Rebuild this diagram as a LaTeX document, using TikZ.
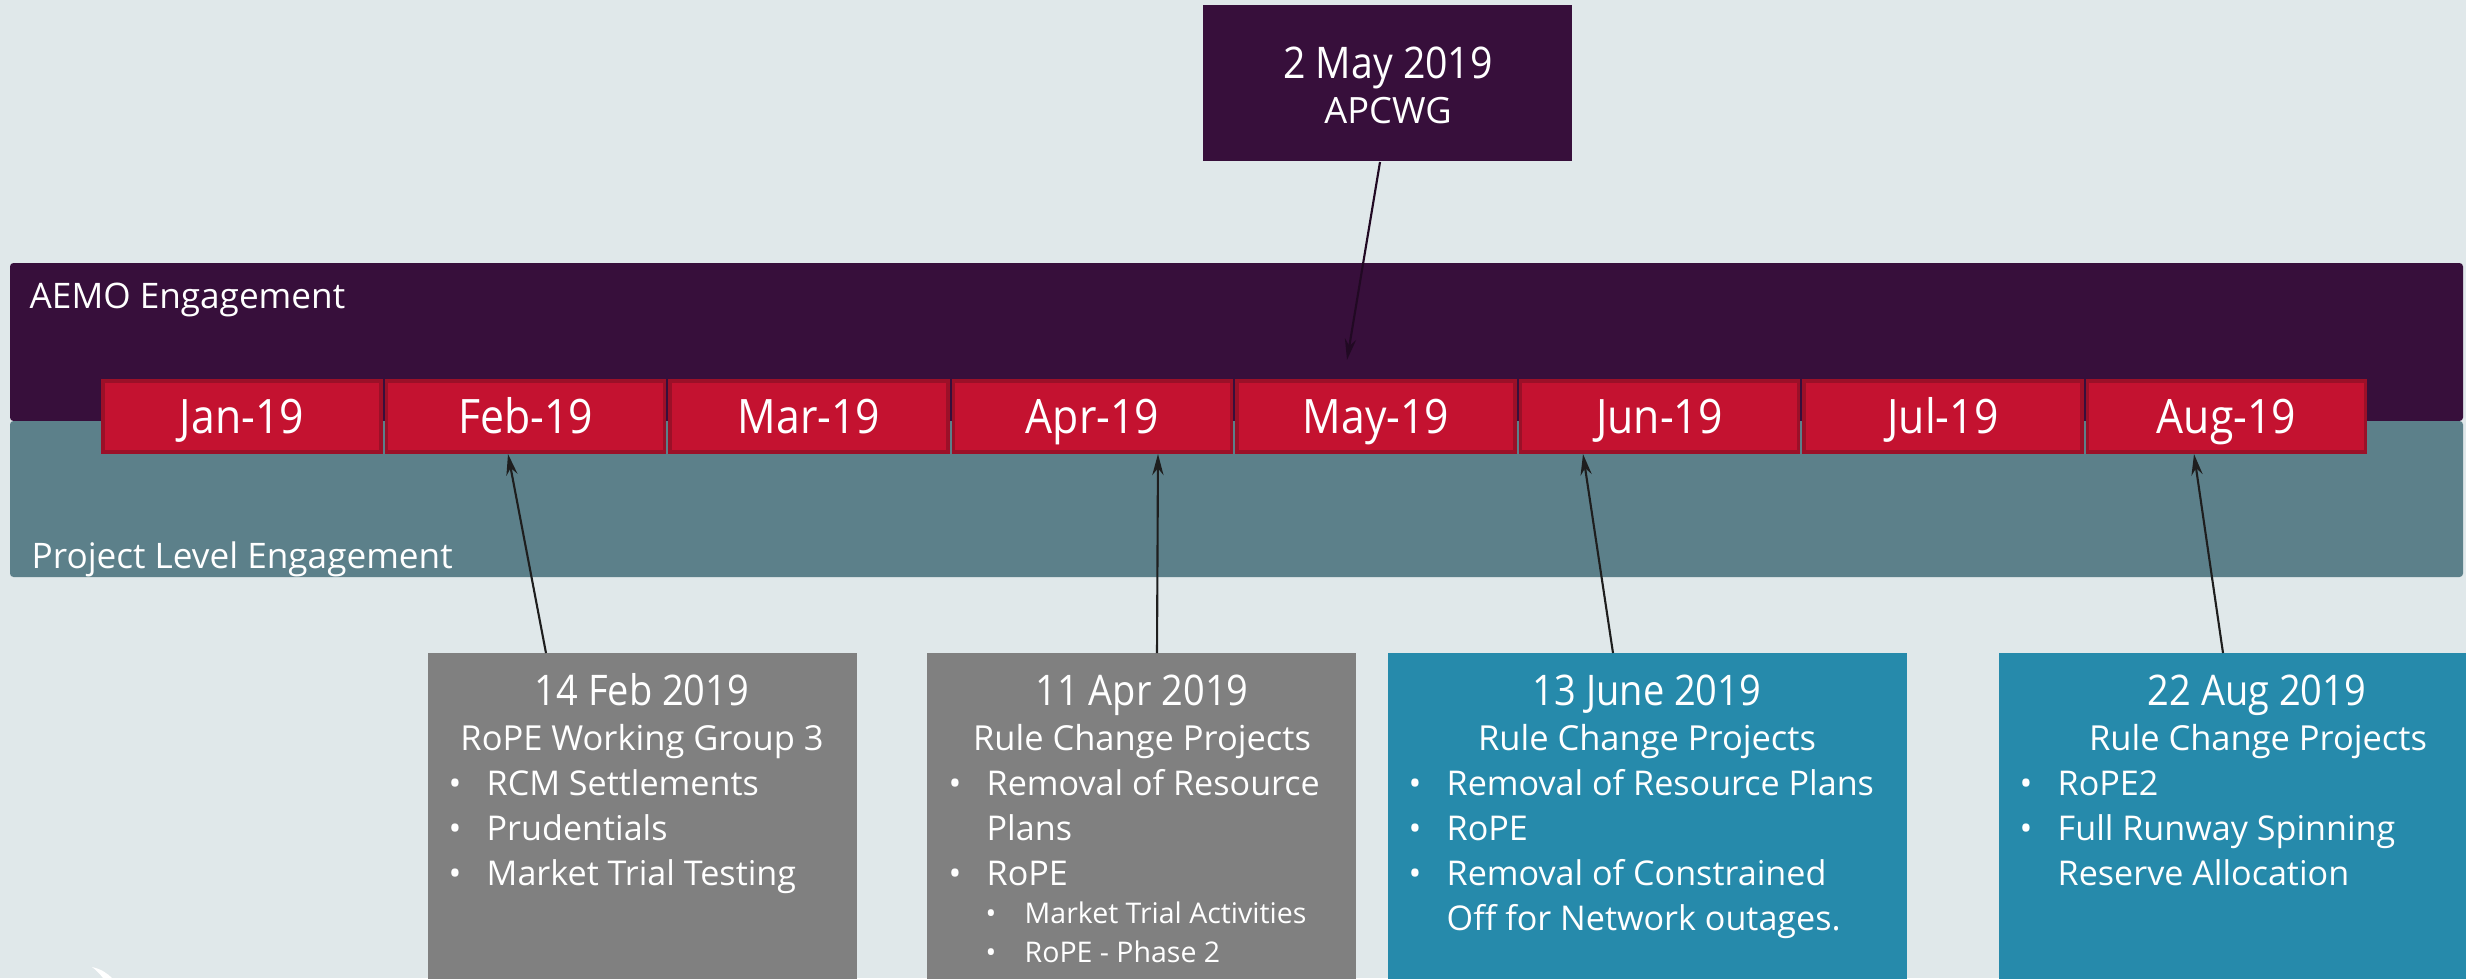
\documentclass[tikz,border=0pt]{standalone}
\usepackage{fontspec}
\setmainfont{Open Sans}
\newfontfamily\titlefont{Open Sans}[FakeStretch=0.9]
\usetikzlibrary{arrows.meta}
\definecolor{bgc}{HTML}{E0E8EA}
\definecolor{aemoc}{HTML}{370F3B}
\definecolor{projc}{HTML}{5C808A}
\definecolor{mred}{HTML}{C41230}
\definecolor{mborder}{HTML}{9B1028}
\definecolor{greyc}{HTML}{808080}
\definecolor{tealc}{HTML}{268AAB}
\definecolor{arrowc}{HTML}{1E1E1E}
\newcommand\bul[1]{\makebox[0.38cm][l]{•}#1}
\newcommand\sbul[1]{\makebox[0.39cm][l]{•}#1}
\begin{document}
\begin{tikzpicture}[x=0.01cm, y=-0.01cm,
  bandlabel/.style={text=white, font=\fontsize{10pt}{12pt}\selectfont, inner sep=0, anchor=base west},
  month/.style={draw=mborder, line width=1pt, fill=mred, text=white,
    minimum width=2.78cm, minimum height=0.71cm, inner sep=0,
    text height=9.6pt, text depth=0pt,
    font=\titlefont\fontsize{13.5pt}{16pt}\selectfont},
  evbox/.style={inner sep=0, minimum height=3.47cm},
  title/.style={text=white, font=\titlefont\fontsize{12pt}{14pt}\selectfont, inner sep=0, anchor=base},
  subt/.style={text=white, font=\fontsize{9.8pt}{12pt}\selectfont, inner sep=0, anchor=base},
  item/.style={text=white, font=\fontsize{9.7pt}{12pt}\selectfont, inner sep=0, anchor=base west},
  subitem/.style={text=white, font=\fontsize{8.1pt}{10pt}\selectfont, inner sep=0, anchor=base west},
  conn/.style={draw=arrowc, line width=0.6pt, -{Stealth[length=6pt,width=3.2pt]}}
]
\clip (0,0) rectangle (2466,978);
\fill[bgc] (0,0) rectangle (2466,978);
% bands
\fill[aemoc, rounded corners=1pt] (10,263) rectangle (2463,421);
\fill[projc, rounded corners=1pt] (10,421) rectangle (2463,577);
\node[bandlabel] (aemolbl) at (29,308) {AEMO Engagement};
\node[bandlabel] (projlbl) at (31,568) {Project Level Engagement};
% months
\foreach \m [count=\i from 0] in {Jan,Feb,Mar,Apr,May,Jun,Jul,Aug} {
  \node[month] (m\i) at ({242+283.5*\i}, 416.5) {\m-19};
}
% APCWG box
\node[fill=aemoc, inner sep=0, minimum width=3.69cm, minimum height=1.56cm] (apbox) at (1387.5,83) {};
\node[title, font=\titlefont\fontsize{12.4pt}{14pt}\selectfont] (apdate) at (1388,78) {2 May 2019};
\node[subt, font=\fontsize{10.3pt}{12pt}\selectfont] (apname) at (1388,123) {APCWG};
\coordinate (aptail) at (1380,162);
\coordinate (aptip) at (1347,360);
\draw[conn, draw=aemoc!60!black] (aptail) -- (aptip);
% event boxes
\node[evbox, fill=greyc, minimum width=4.29cm] (b1) at (642.5,826.5) {};
\node[evbox, fill=greyc, minimum width=4.29cm] (b2) at (1141.5,826.5) {};
\node[evbox, fill=tealc, minimum width=5.19cm] (b3) at (1647.5,826.5) {};
\node[evbox, fill=tealc, minimum width=5.19cm] (b4) at (2258.5,826.5) {};
% connectors
\coordinate (b1tail) at (546,653);
\coordinate (febin) at (508,454);
\coordinate (b2tail) at (1157,653);
\coordinate (aprin) at (1158,454);
\coordinate (b3tail) at (1613,653);
\coordinate (junin) at (1583,454);
\coordinate (b4tail) at (2223,653);
\coordinate (augin) at (2194,454);
\draw[conn] (b1tail) -- (febin);
\draw[conn] (b2tail) -- (aprin);
\draw[conn] (b3tail) -- (junin);
\draw[conn] (b4tail) -- (augin);
% box 1
\node[title] (b1t) at (642,705) {14 Feb 2019};
\node[subt] (b1s) at (642,750) {RoPE Working Group 3};
\node[item] (b1a) at (448,795) {\bul{RCM Settlements}};
\node[item] (b1b) at (448,840) {\bul{Prudentials}};
\node[item] (b1c) at (448,885) {\bul{Market Trial Testing}};
% box 2
\node[title] (b2t) at (1142,705) {11 Apr 2019};
\node[subt] (b2s) at (1142,750) {Rule Change Projects};
\node[item] (b2a) at (948,795) {\bul{Removal of Resource}};
\node[item] (b2a2) at (986,840) {Plans};
\node[item] (b2b) at (948,885) {\bul{RoPE}};
\node[subitem] (b2c) at (985,923) {\sbul{Market Trial Activities}};
\node[subitem] (b2d) at (985,962) {\sbul{RoPE - Phase 2}};
% box 3
\node[title] (b3t) at (1647,705) {13 June 2019};
\node[subt] (b3s) at (1647,750) {Rule Change Projects};
\node[item] (b3a) at (1408,795) {\bul{Removal of Resource Plans}};
\node[item] (b3b) at (1408,840) {\bul{RoPE}};
\node[item] (b3c) at (1408,885) {\bul{Removal of Constrained}};
\node[item] (b3c2) at (1446,930) {Off for Network outages.};
% box 4
\node[title] (b4t) at (2257,705) {22 Aug 2019};
\node[subt] (b4s) at (2258,750) {Rule Change Projects};
\node[item] (b4a) at (2019,795) {\bul{RoPE2}};
\node[item] (b4b) at (2019,840) {\bul{Full Runway Spinning}};
\node[item] (b4b2) at (2057,885) {Reserve Allocation};
% small white mark
\fill[white] (92,967) .. controls (101,969) and (107,973) .. (112,978) -- (103,978) .. controls (100,974) and (96,970) .. (92,967);
\end{tikzpicture}
\end{document}
